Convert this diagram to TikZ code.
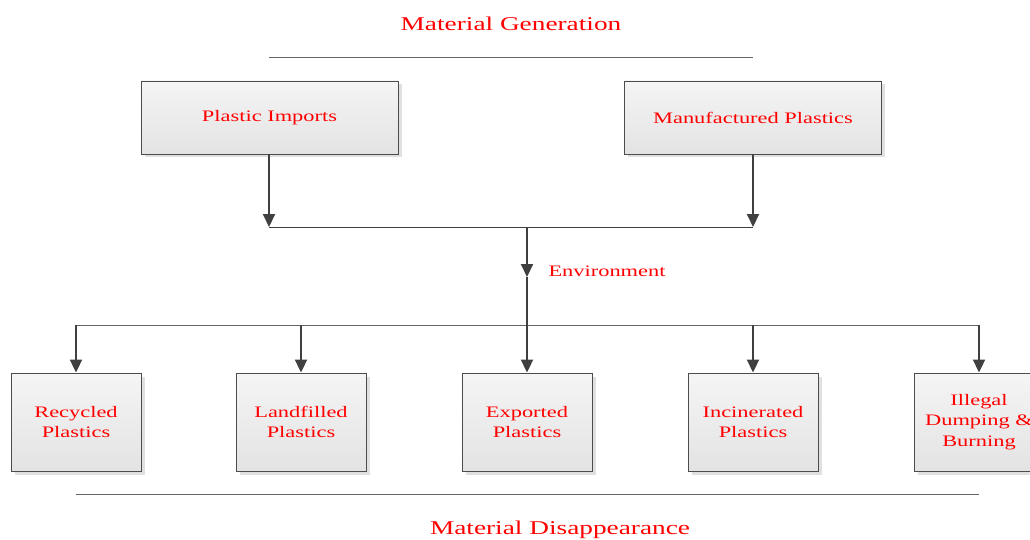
\documentclass[tikz,border=0pt]{standalone}
\usepackage{fontspec}
\setmainfont{Liberation Serif}[FakeStretch=1.4]
\usetikzlibrary{arrows.meta,shadows}

\begin{document}
\begin{tikzpicture}[x=1pt,y=-1pt]
 \tikzset{flow box/.style={
    draw=black!70, line width=0.9pt,
    top color=gray!8, bottom color=gray!22,
    drop shadow={shadow xshift=3.5pt, shadow yshift=-3.5pt,
      fill=black!12, opacity=1},
    text=red, font=\fontsize{16}{20.5}\selectfont,
    align=center, inner sep=0pt,
    minimum width=#1
  },
  flow box/.default=130pt,
  big box/.style={flow box=257pt, minimum height=73pt},
  small box/.style={flow box, minimum height=98pt},
  flow/.style={draw=black!75, line width=2pt,
    -{Triangle[length=13pt,width=12pt]}},
  rule/.style={draw=black!60, line width=0.8pt},
  title/.style={text=red, font=\fontsize{19.5}{22}\selectfont}
}
\useasboundingbox (0,0) rectangle (1030,540);

% generation side
\node[title] (gen) at (511,24) {Material Generation};
\draw[rule] (269,57) -- (753,57);
\node[big box] (imp) at (269.5,117.5) {Plastic Imports};
\node[big box] (man) at (753,117.5) {Manufactured Plastics};

\coordinate (jl) at (269,227);
\coordinate (jr) at (753,227);
\coordinate (jm) at (527,227);
\draw[flow] (imp.south -| jl) -- (jl);
\draw[flow] (man.south -| jr) -- (jr);
\draw[rule, draw=black!75] (jl) -- (jr);

% environment
\coordinate (env) at (527,277);
\coordinate (split) at (527,325);
\draw[flow] (jm) -- (env);
\node[text=red, font=\fontsize{16}{20}\selectfont, anchor=west]
  (envlabel) at (545,271.5) {Environment};
\draw[draw=black!75, line width=2pt] (env) -- (split);

% disappearance side
\node[small box] (rec)  at (76,422)  {Recycled\\Plastics};
\node[small box] (land) at (301,422) {Landfilled\\Plastics};
\node[small box] (exp)  at (527,422) {Exported\\Plastics};
\node[small box] (inc)  at (753,422) {Incinerated\\Plastics};
\node[small box] (ill)  at (979,422) {Illegal\\Dumping \&\\Burning};

\draw[rule] (rec.north |- split) -- (ill.north |- split);
\foreach \n in {rec,land,exp,inc,ill}
  \draw[flow] (\n.north |- split) -- (\n.north);

\draw[rule] (76,494) -- (979,494);
\node[title] (dis) at (560,530) {Material Disappearance};
\end{tikzpicture}
\end{document}
